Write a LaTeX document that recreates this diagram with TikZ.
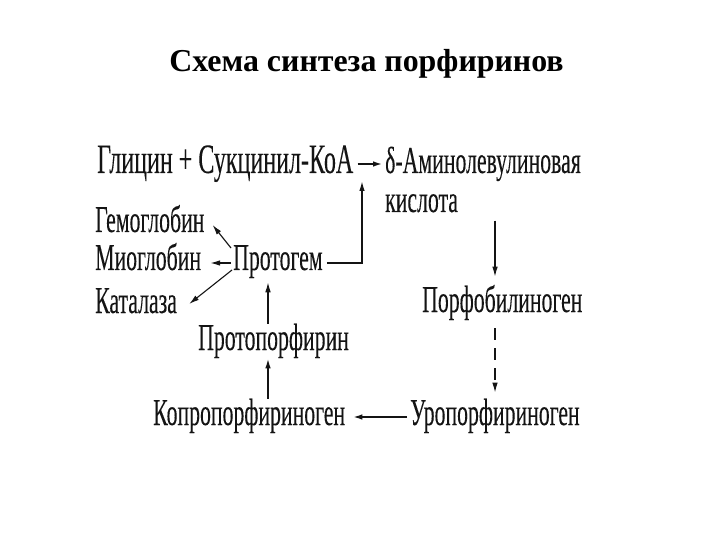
\documentclass[tikz,border=0pt]{standalone}
\usepackage{fontspec}
\usepackage{tikz}
\usetikzlibrary{arrows.meta,positioning,calc}
\setmainfont{Liberation Serif}
\newfontfamily\condfont[FakeStretch=0.575,FakeBold=0.12]{Liberation Serif}
\definecolor{schink}{HTML}{141414}
\tikzset{
  lbl/.style={inner sep=0pt,anchor=base west,text=schink,font=\condfont\fontsize{38}{40}\selectfont},
  biglbl/.style={lbl,font=\condfont\fontsize{42}{44}\selectfont},
  ttl/.style={inner sep=0pt,anchor=base,font=\bfseries\fontsize{32}{34}\selectfont},
  ar/.style={-{Latex[length=10bp,width=5.5bp]},draw=schink,line width=1.1bp},
  arb/.style={ar,line width=2.2bp},
  ard/.style={ar,dash pattern=on 12bp off 8bp},
}
\begin{document}
\begin{tikzpicture}[x=1bp,y=-1bp]
  \useasboundingbox[fill=white] (0,0) rectangle (720,540);
  % title
  \node[ttl] (title) at (366.5,72) {Схема синтеза порфиринов};
  % substances
  \node[biglbl] (glycine) at (97,173) {Глицин + Сукцинил-КоА};
  \node[lbl] (ala) at (385,173) {δ-Аминолевулиновая};
  \node[lbl] (acid) at (385,212) {кислота};
  \node[lbl] (pbg) at (422,312) {Порфобилиноген};
  \node[lbl] (uro) at (410,425) {Уропорфириноген};
  \node[lbl] (copro) at (153,425) {Копропорфириноген};
  \node[lbl] (protop) at (198,350) {Протопорфирин};
  \node[lbl] (protoheme) at (233,270) {Протогем};
  \node[lbl] (hemo) at (95,232) {Гемоглобин};
  \node[lbl] (myo) at (95,270) {Миоглобин};
  \node[lbl] (cat) at (95,313) {Каталаза};
  % helper points
  \coordinate (rline) at (495,0);
  \coordinate (lline) at (268,0);
  \coordinate (join) at (362,181);
  % right branch
  \draw[arb] ([shift={(4,-9)}]glycine.base east) -- ([shift={(-2,-9)}]ala.base west);
  \draw[ar,shorten <=8bp,shorten >=8bp] (acid.south -| rline) -- (pbg.north -| rline);
  \draw[ard,shorten <=8bp,shorten >=6bp] (pbg.south -| rline) -- (uro.north -| rline);
  \draw[arb] ([shift={(-3,-8)}]uro.base west) -- ([shift={(7,-8)}]copro.base east);
  % left branch
  \draw[ar,line width=1.8bp] (copro.north -| lline) -- (protop.south -| lline);
  \draw[ar] (protop.north -| lline) -- ([yshift=-4bp]protoheme.south -| lline);
  \draw[ar,line width=1.5bp] ([shift={(4,-7)}]protoheme.base east) -| (join);
  \draw[ar] ([shift={(-2,-22)}]protoheme.base west) -- ([shift={(8,-7)}]hemo.base east);
  \draw[ar] ([shift={(-2,-7)}]protoheme.base west) -- ([shift={(9,-7)}]myo.base east);
  \draw[ar] ([shift={(-1,0)}]protoheme.base west) -- ([shift={(12,-9)}]cat.base east);
\end{tikzpicture}
\end{document}
